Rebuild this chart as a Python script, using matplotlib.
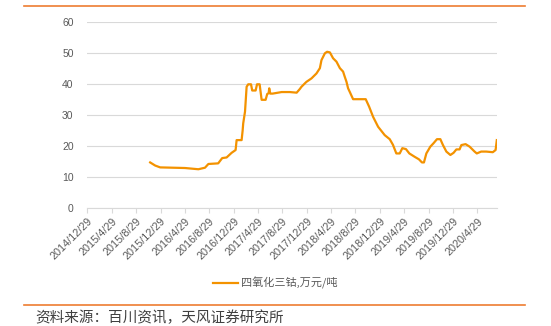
import pandas as pd
import matplotlib.pyplot as plt

plt.rcParams['font.family'] = ['Liberation Sans', 'Noto Sans CJK SC', 'DejaVu Sans']

# 四氧化三钴 价格, 万元/吨
dates = [
    '2015-11-07', '2015-12-02', '2015-12-27', '2016-04-29', '2016-07-05', '2016-08-07',
    '2016-08-24', '2016-10-12', '2016-11-01', '2016-11-23', '2016-12-18', '2017-01-07',
    '2017-01-12', '2017-02-06', '2017-02-11', '2017-02-14', '2017-02-23', '2017-03-03',
    '2017-03-11', '2017-03-25', '2017-03-31', '2017-04-17', '2017-04-24', '2017-05-07',
    '2017-05-17', '2017-06-06', '2017-06-14', '2017-06-21', '2017-06-24', '2017-06-29',
    '2017-07-11', '2017-08-25', '2017-10-05', '2017-11-08', '2017-11-24', '2017-12-02',
    '2017-12-19', '2017-12-27', '2018-01-21', '2018-02-15', '2018-03-04', '2018-03-12',
    '2018-03-29', '2018-04-09', '2018-04-23', '2018-05-09', '2018-05-26', '2018-06-12',
    '2018-06-28', '2018-07-06', '2018-07-15', '2018-07-23', '2018-07-31', '2018-08-17',
    '2018-10-19', '2018-11-05', '2018-11-25', '2018-12-20', '2019-01-22', '2019-02-16',
    '2019-03-04', '2019-03-21', '2019-04-07', '2019-04-20', '2019-05-08', '2019-05-25',
    '2019-06-21', '2019-07-12', '2019-07-27', '2019-08-06', '2019-08-18', '2019-09-07',
    '2019-09-23', '2019-10-10', '2019-10-27', '2019-11-09', '2019-11-26', '2019-12-16',
    '2020-01-01', '2020-01-15', '2020-01-31', '2020-02-09', '2020-03-01', '2020-03-21',
    '2020-04-15', '2020-04-26', '2020-05-18', '2020-06-12', '2020-07-15', '2020-07-29',
    '2020-08-04',
]
prices = [
    14.8, 13.8, 13.2, 13.0, 12.6, 13.1,
    14.3, 14.5, 16.2, 16.4, 17.9, 18.8,
    22.0, 22.0, 25.0, 27.4, 31.2, 39.2,
    40.0, 40.0, 38.0, 38.0, 40.0, 40.0,
    35.0, 35.0, 36.9, 37.1, 38.7, 37.0,
    37.0, 37.5, 37.5, 37.3, 38.5, 39.2,
    40.3, 40.8, 41.9, 43.5, 45.2, 47.8,
    50.0, 50.5, 50.3, 48.4, 47.3, 45.2,
    44.1, 42.5, 40.8, 38.7, 37.6, 35.2,
    35.2, 32.8, 29.5, 26.3, 23.6, 22.3,
    20.5, 17.7, 17.7, 19.4, 19.1, 17.7,
    16.6, 15.8, 14.8, 14.8, 17.7, 19.9,
    21.0, 22.3, 22.3, 20.4, 18.3, 17.2,
    17.9, 19.0, 19.0, 20.4, 20.7, 19.9,
    18.3, 17.7, 18.3, 18.3, 18.1, 18.8,
    22.0,
]
tick_dates = [pd.Timestamp('2014-12-29') + pd.DateOffset(months=4 * i) for i in range(17)]
tick_labels = [f'{d.year}/{d.month}/{d.day}' for d in tick_dates]
series_name = '四氧化三钴,万元/吨'
source = '资料来源：百川资讯，天风证券研究所'

orange = '#F39200'
grey_txt = '#595959'

fig = plt.figure(figsize=(5.51, 3.26), dpi=100)
ax = fig.add_axes([0.1588, 0.361, 0.902 - 0.1588, 0.5706])

x = pd.to_datetime(dates)
ax.plot(x, prices, color=orange, lw=1.6, label=series_name)

ax.set_ylim(0, 60)
ax.set_yticks(range(0, 61, 10))
ax.set_xlim(pd.Timestamp('2014-12-29'), pd.Timestamp('2020-08-05'))
ax.set_xticks(tick_dates)
ax.set_xticklabels(tick_labels, rotation=45, ha='right', rotation_mode='anchor')

ax.grid(axis='y', color='#D9D9D9', lw=0.8)
ax.set_axisbelow(True)
for s in ['top', 'right', 'left']:
    ax.spines[s].set_visible(False)
ax.spines['bottom'].set_color('#D9D9D9')
ax.spines['bottom'].set_linewidth(0.8)
ax.tick_params(axis='y', length=0, labelsize=7.5, labelcolor=grey_txt, pad=10)
ax.tick_params(axis='x', length=3.5, color='#D9D9D9', labelsize=7.8, labelcolor=grey_txt, pad=2)

leg = fig.legend(loc='center', bbox_to_anchor=(0.5, 1 - 283 / 326), frameon=False,
                 fontsize=8, handlelength=2.2, handletextpad=0.3)
for t in leg.get_texts():
    t.set_color(grey_txt)
    t.set_family(['Noto Sans CJK SC', 'DejaVu Sans'])

fig.add_artist(plt.Line2D([24 / 551, 525 / 551], [1 - 6 / 326] * 2, color='#ED7D31', lw=1.2))
fig.add_artist(plt.Line2D([24 / 551, 525 / 551], [1 - 305 / 326] * 2, color='#ED7D31', lw=1.2))
fig.text(35 / 551, 1 - 318 / 326, source, fontsize=10.5, color='#404040', va='center',
         family=['Noto Sans CJK SC', 'DejaVu Sans'])

fig.savefig('out.png', dpi=100)
